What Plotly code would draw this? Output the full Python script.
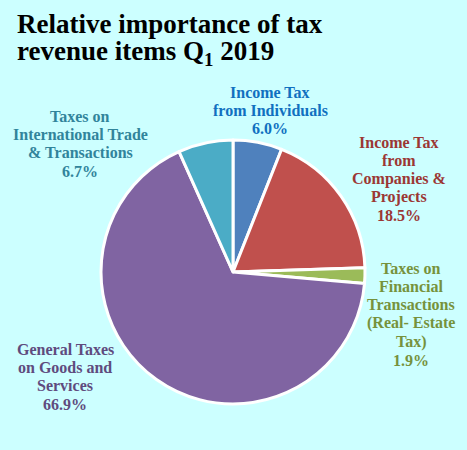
import plotly.graph_objects as go

W, H = 467, 450

# Tax revenue items, listed clockwise from 12 o'clock
label_lines = [
    ["Income Tax", "from Individuals"],
    ["Income Tax", "from", "Companies &", "Projects"],
    ["Taxes on", "Financial", "Transactions", "(Real- Estate", "Tax)"],
    ["General Taxes", "on Goods and", "Services"],
    ["Taxes on", "International Trade", "& Transactions"],
]
shares = [6.0, 18.5, 1.9, 66.9, 6.7]
slice_colors = ["#4f81bd", "#c0504d", "#9bbb59", "#8064a2", "#4bacc6"]
label_colors = ["#1070c0", "#9b3734", "#76923c", "#5f4b7e", "#31849b"]

title_lines = ["Relative importance of tax", "revenue items Q<sub>1</sub> 2019"]

# label block placement in pixels: centre x, centre of first line, line step
label_cx = [270, 399, 411, 65, 80]
label_top = [92, 142, 268, 349, 116]
LINE_STEP = 18.4
SERIF = "Liberation Serif, Times New Roman, serif"

fig = go.Figure(
    go.Pie(
        values=shares,
        labels=[" ".join(l) for l in label_lines],
        sort=False,
        direction="clockwise",
        rotation=0,
        marker=dict(colors=slice_colors, line=dict(color="white", width=3)),
        textinfo="none",
        hoverinfo="label+percent",
        domain=dict(x=[0.2163, 0.7816], y=[0.1022, 0.6889]),
        showlegend=False,
    )
)

for lines, val, col, cx, top in zip(label_lines, shares, label_colors, label_cx, label_top):
    for i, txt in enumerate(lines + [f"{val:.1f}%"]):
        fig.add_annotation(
            x=cx / W, y=1 - (top + i * LINE_STEP) / H,
            xref="paper", yref="paper",
            text=txt, showarrow=False,
            xanchor="center", yanchor="middle",
            font=dict(family=SERIF, size=16, color=col, weight="bold"),
        )

for i, txt in enumerate(title_lines):
    fig.add_annotation(
        x=15 / W, y=1 - (24 + i * 29) / H,
        xref="paper", yref="paper",
        text=txt, showarrow=False,
        xanchor="left", yanchor="middle",
        font=dict(family=SERIF, size=27, color="black", weight="bold"),
    )

fig.update_layout(
    width=W, height=H,
    margin=dict(l=0, r=0, t=0, b=0),
    paper_bgcolor="#ccffff",
    plot_bgcolor="#ccffff",
)

fig.write_html("out.html")
